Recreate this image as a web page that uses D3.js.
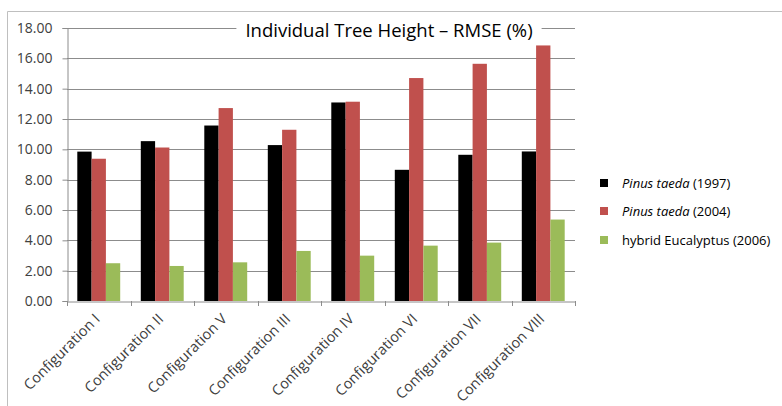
<!DOCTYPE html>
<html><head><meta charset="utf-8">
<script src="https://cdn.jsdelivr.net/npm/d3@7"></script>
<style>
body{margin:0;background:#fff;}
text{font-family:"Open Sans","Noto Sans",sans-serif;}
</style></head>
<body><svg id="c" width="782" height="406"></svg>
<script>
const categories = ["Configuration I","Configuration II","Configuration V","Configuration III","Configuration IV","Configuration VI","Configuration VII","Configuration VIII"];
const seriesNames = ["Pinus taeda (1997)","Pinus taeda (2004)","hybrid Eucalyptus (2006)"];
const pinus1997 = [9.85,10.54,11.57,10.28,13.09,8.65,9.64,9.86];
const pinus2004 = [9.38,10.12,12.72,11.29,13.14,14.70,15.64,16.85];
const eucalyptus2006 = [2.49,2.31,2.55,3.30,2.99,3.65,3.85,5.37];
const yTicks = [0,2,4,6,8,10,12,14,16,18];
const colors = ["#000000","#C0504D","#9BBB59"];
const titleText = "Individual Tree Height \u2013 RMSE (%)";

const series = [pinus1997, pinus2004, eucalyptus2006];
const svg = d3.select("#c");
const m = {left:67, right:575, top:28, bottom:301};

// outer frame
svg.append("line").attr("x1",7.5).attr("x2",782).attr("y1",11.5).attr("y2",11.5).attr("stroke","#bfbfbf");
svg.append("line").attr("x1",7.5).attr("x2",7.5).attr("y1",11.5).attr("y2",406).attr("stroke","#bfbfbf");

const x = d3.scaleBand().domain(categories).range([m.left,m.right]).paddingInner(0).paddingOuter(0);
const x1 = d3.scaleBand().domain(d3.range(3)).range([0,x.bandwidth()]).paddingInner(0).paddingOuter(0.72);
const y = d3.scaleLinear().domain([0,18]).range([m.bottom,m.top]);

// gridlines
svg.append("g").selectAll("line").data(yTicks.filter(d=>d>0)).join("line")
  .attr("x1",m.left).attr("x2",m.right)
  .attr("y1",d=>Math.round(y(d))+0.5).attr("y2",d=>Math.round(y(d))+0.5)
  .attr("stroke","#8c8c8c").attr("stroke-width",1);

// y axis
const yAxis = d3.axisLeft(y).tickValues(yTicks).tickFormat(d3.format(".2f")).tickSize(5).tickPadding(10);
const gy = svg.append("g").attr("transform",`translate(${m.left+0.5},0)`).call(yAxis);
gy.select(".domain").attr("stroke","#8c8c8c");
gy.selectAll(".tick line").attr("stroke","#8c8c8c");
gy.selectAll(".tick text").attr("fill","#404040").style("font-size","14px").style("font-family","'Open Sans',sans-serif");

// bars
const g = svg.append("g");
categories.forEach((c,i)=>{
  series.forEach((s,j)=>{
    g.append("rect")
      .attr("x",x(c)+x1(j)).attr("width",x1.bandwidth())
      .attr("y",y(s[i])).attr("height",y(0)-y(s[i]))
      .attr("fill",colors[j]);
  });
});

// x axis
const xAxis = d3.axisBottom(x).tickSize(0).tickFormat("");
const gx = svg.append("g").attr("transform",`translate(0,${m.bottom+0.5})`).call(xAxis);
gx.select(".domain").attr("stroke","#8c8c8c");
// boundary ticks
const bounds = categories.map(c=>x(c)).concat([m.right]);
svg.append("g").selectAll("line").data(bounds).join("line")
  .attr("x1",d=>Math.round(d)+0.5).attr("x2",d=>Math.round(d)+0.5)
  .attr("y1",m.bottom).attr("y2",m.bottom+5).attr("stroke","#8c8c8c");
// labels
svg.append("g").selectAll("text").data(categories).join("text")
  .attr("transform",d=>`translate(${x(d)+x.bandwidth()/2+2},${m.bottom+19}) rotate(-45)`)
  .attr("text-anchor","end").attr("fill","#404040").style("font-size","14.5px")
  .text(d=>d);

// title
const tbg = svg.append("rect").attr("fill","#fff");
const t = svg.append("text").attr("x",389).attr("y",37).attr("text-anchor","middle")
  .attr("fill","#000").style("font-size","18.5px").text(titleText);
const bb = t.node().getBBox();
tbg.attr("x",bb.x-9).attr("y",bb.y).attr("width",bb.width+18).attr("height",bb.height);

// legend
const leg = svg.append("g");
const legY = [183,211,240];
seriesNames.forEach((n,j)=>{
  leg.append("rect").attr("x",600).attr("y",legY[j]-4).attr("width",8).attr("height",8).attr("fill",colors[j]);
  const tx = leg.append("text").attr("x",622).attr("y",legY[j]+4.5).attr("fill","#000").style("font-size","13px");
  if(j<2){
    tx.append("tspan").style("font-style","italic").text("Pinus taeda");
    tx.append("tspan").text(n.replace("Pinus taeda",""));
  } else tx.text(n);
});
</script></body></html>
